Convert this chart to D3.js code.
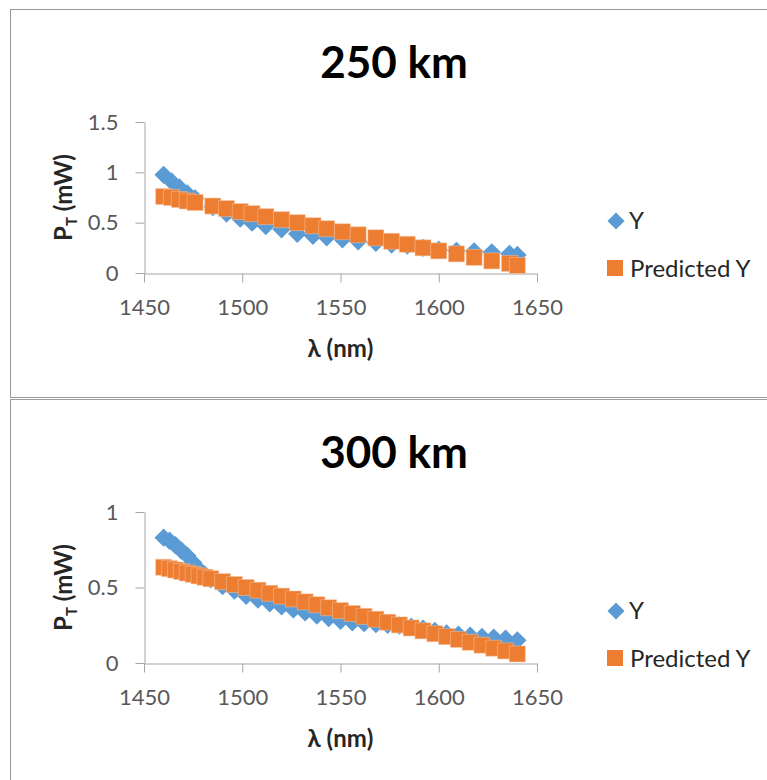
<!DOCTYPE html>
<html>
<head>
<meta charset="utf-8">
<script src="https://cdn.jsdelivr.net/npm/d3@7"></script>
<style>
  html, body { margin: 0; padding: 0; background: #fff; }
  svg { display: block; font-family: Lato, "Open Sans", sans-serif; }
</style>
</head>
<body>
<svg id="chart" width="767" height="780"></svg>
<script>
// 250 km link: wavelength (nm), measured power and fitted power (mW)
const wavelength250 = [1460, 1464, 1468, 1472, 1476, 1485, 1492, 1499, 1505, 1512, 1520, 1528, 1536, 1543,
  1551, 1559, 1568, 1576, 1584, 1592, 1600, 1609, 1618, 1627, 1636, 1640];
const measured250 = [0.975, 0.91, 0.85, 0.79, 0.74, 0.655, 0.59, 0.54, 0.50, 0.467, 0.434, 0.39, 0.37, 0.355,
  0.335, 0.315, 0.30, 0.283, 0.272, 0.25, 0.232, 0.22, 0.215, 0.205, 0.19, 0.18];
const predicted250 = [0.76, 0.75, 0.73, 0.715, 0.70, 0.665, 0.64, 0.61, 0.59, 0.56, 0.53, 0.50, 0.47, 0.44,
  0.41, 0.38, 0.35, 0.315, 0.285, 0.25, 0.22, 0.19, 0.155, 0.12, 0.095, 0.075];

// 300 km link
const wavelength300 = [1460, 1463, 1466, 1469, 1472, 1475, 1478, 1481, 1484, 1490, 1496, 1502, 1508, 1514, 1520, 1526, 1532,
  1538, 1544, 1550, 1556, 1562, 1568, 1574, 1580, 1586, 1592, 1598, 1604, 1610, 1616, 1622, 1628, 1634, 1640];
const measured300 = [0.83, 0.81, 0.78, 0.745, 0.71, 0.665, 0.62, 0.585, 0.555, 0.51, 0.48, 0.445, 0.42, 0.395, 0.375, 0.355, 0.335,
  0.315, 0.298, 0.28, 0.27, 0.264, 0.258, 0.253, 0.248, 0.24, 0.228, 0.212, 0.195, 0.188, 0.181, 0.172, 0.168, 0.161, 0.15];
const predicted300 = [0.634, 0.625, 0.616, 0.606, 0.596, 0.587, 0.577, 0.568, 0.558, 0.539, 0.52, 0.50, 0.482, 0.462, 0.443, 0.424, 0.405,
  0.386, 0.366, 0.347, 0.328, 0.309, 0.29, 0.27, 0.252, 0.232, 0.213, 0.194, 0.175, 0.156, 0.137, 0.118, 0.098, 0.08, 0.06];

const xTicks = [1450, 1500, 1550, 1600, 1650];
const yTicks250 = [0, 0.5, 1, 1.5];
const yTicks300 = [0, 0.5, 1];
const panelTitles = ["250 km", "300 km"];
const seriesNames = ["Y", "Predicted Y"];
const xAxisTitle = "λ (nm)";

const BLUE = "#5B9BD5", ORANGE = "#ED7D31";
const svg = d3.select("#chart");

const panels = [
  { top: 9, height: 388, title: panelTitles[0], x: wavelength250, y1: measured250, y2: predicted250, yMax: 1.5, yTicks: yTicks250 },
  { top: 399, height: 400, title: panelTitles[1], x: wavelength300, y1: measured300, y2: predicted300, yMax: 1, yTicks: yTicks300 }
];

// diamond = square turned 45 degrees
const diamond = d3.symbol(d3.symbolSquare, 169);
const square = d3.symbol(d3.symbolSquare, 256);
const legendDiamond = d3.symbol(d3.symbolSquare, 144);

panels.forEach(p => {
  const g = svg.append("g").attr("transform", `translate(0,${p.top})`);

  // chart frame
  g.append("rect")
    .attr("x", 10.5).attr("y", 0.5)
    .attr("width", 800).attr("height", p.height)
    .attr("fill", "#fff").attr("stroke", "#9a9a9a").attr("stroke-width", 1);

  const plot = { left: 144, right: 537, top: 113, bottom: 264 };
  const x = d3.scaleLinear().domain([1450, 1650]).range([plot.left, plot.right]);
  const y = d3.scaleLinear().domain([0, p.yMax]).range([plot.bottom, plot.top]);

  // title
  g.append("text")
    .attr("x", 394).attr("y", 69)
    .attr("text-anchor", "middle")
    .attr("font-size", 44).attr("font-weight", "bold").attr("fill", "#000")
    .text(p.title);

  // axes
  const yAxis = d3.axisLeft(y).tickValues(p.yTicks).tickSize(9).tickSizeOuter(0).tickPadding(17)
    .tickFormat(d => String(d));
  const xAxis = d3.axisBottom(x).tickValues(xTicks).tickSize(9).tickSizeOuter(0).tickPadding(17)
    .tickFormat(d => String(d));

  const gy = g.append("g").attr("transform", `translate(${plot.left + 0.5},0)`).call(yAxis);
  const gx = g.append("g").attr("transform", `translate(0,${plot.bottom + 0.5})`).call(xAxis);
  [gx, gy].forEach(a => {
    a.selectAll("path, line").attr("stroke", "#a6a6a6").attr("stroke-width", 1);
    a.selectAll("text").attr("font-size", 22).attr("fill", "#595959")
      .attr("font-family", "Lato, 'Open Sans', sans-serif");
  });

  // axis titles
  g.append("text")
    .attr("x", (plot.left + plot.right) / 2).attr("y", 348)
    .attr("text-anchor", "middle")
    .attr("font-size", 24).attr("font-weight", "bold").attr("fill", "#262626")
    .text(xAxisTitle);

  const yt = g.append("text")
    .attr("transform", `translate(72,${(plot.top + plot.bottom) / 2}) rotate(-90)`)
    .attr("text-anchor", "middle")
    .attr("font-size", 24).attr("font-weight", "bold").attr("fill", "#262626");
  yt.append("tspan").text("P");
  yt.append("tspan").attr("font-size", 15).attr("dy", 5).text("T");
  yt.append("tspan").attr("dy", -5).text(" (mW)");

  // series: measured (diamonds) then predicted (squares) on top
  const pts1 = p.x.map((v, i) => [v, p.y1[i]]);
  const pts2 = p.x.map((v, i) => [v, p.y2[i]]);

  g.append("g").selectAll("path").data(pts1).join("path")
    .attr("d", diamond)
    .attr("transform", d => `translate(${x(d[0])},${y(d[1])}) rotate(45)`)
    .attr("fill", BLUE);

  g.append("g").selectAll("path").data(pts2).join("path")
    .attr("d", square)
    .attr("transform", d => `translate(${x(d[0])},${y(d[1])})`)
    .attr("fill", ORANGE)
    .attr("stroke", "#f5c4a0").attr("stroke-width", 0.5);

  // legend
  const lg = g.append("g");
  lg.append("path").attr("d", legendDiamond).attr("transform", "translate(616,212) rotate(45)").attr("fill", BLUE);
  lg.append("text").attr("x", 629).attr("y", 220).attr("font-size", 24).attr("fill", "#262626").text(seriesNames[0]);
  lg.append("path").attr("d", square).attr("transform", "translate(615,259)").attr("fill", ORANGE);
  lg.append("text").attr("x", 630).attr("y", 268).attr("font-size", 24).attr("fill", "#262626").text(seriesNames[1]);
});
</script>
</body>
</html>
